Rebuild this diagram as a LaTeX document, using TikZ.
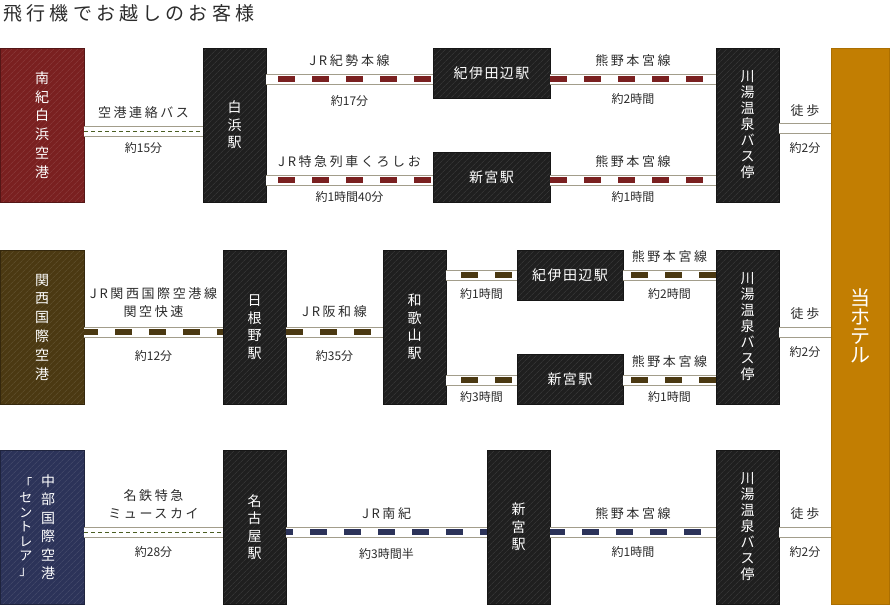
\documentclass[tikz,border=0pt]{standalone}
\usepackage{fontspec}
\setmainfont{Noto Sans CJK JP}
\newfontfamily\spfont[LetterSpace=20]{Noto Sans CJK JP}
\newfontfamily\stfont[LetterSpace=10]{Noto Sans CJK JP}
\newfontfamily\ttlfont[LetterSpace=22]{Noto Sans CJK JP}
\usetikzlibrary{positioning,patterns.meta}
\definecolor{ink}{HTML}{2B2B2B}
\definecolor{rail}{HTML}{A29D8B}
\definecolor{nkred}{HTML}{7A2020}
\definecolor{kxbrown}{HTML}{4B3912}
\definecolor{cnavy}{HTML}{2C3359}
\definecolor{stnfill}{HTML}{1F1F1F}
\definecolor{gold}{HTML}{C27E02}
\definecolor{busg}{HTML}{4B5E22}
\tikzset{
  blk/.style={rectangle,inner sep=0pt,outer sep=0pt,line width=1pt,text=white,align=center,font=\fontsize{14}{17.5}\selectfont},
  hatch/.style={preaction={fill=#1},draw=#1!70!black,pattern={Lines[angle=45,distance=4pt,line width=0.6pt]},pattern color=white!14!#1},
  apt/.style={blk,hatch=#1,minimum width=84pt,minimum height=154pt,font=\fontsize{14}{18.8}\selectfont},
  bigstn/.style={blk,hatch=stnfill,minimum width=63pt,minimum height=154pt},
  smstn/.style={blk,hatch=stnfill,minimum height=50pt,font=\stfont\fontsize{14}{17}\selectfont},
  track/.style={draw=rail,line width=1pt,double=white,double distance=9pt},
  tie/.style={draw=#1,line width=6pt,dash pattern=on 17pt off 17pt},
  bus/.style={draw=busg,line width=1pt,dash pattern=on 4pt off 3pt},
  nm/.style={font=\spfont\fontsize{13}{18}\selectfont,text=ink,align=center,yshift=18pt},
  tm/.style={font=\fontsize{12}{14}\selectfont,text=ink,yshift=-20pt},
}
\begin{document}
\begin{tikzpicture}[x=1pt,y=-1pt]
\useasboundingbox (0,0) rectangle (890,605);
\node[font=\ttlfont\fontsize{19}{21}\selectfont,text=ink,anchor=west] (title) at (0,13) {飛行機でお越しのお客様};

% boxes
\node[apt=nkred] (nanki) at (42,125) {南\\紀\\白\\浜\\空\\港};
\node[bigstn,right=119pt of nanki] (shirahama) {白\\浜\\駅};
\node[smstn,minimum width=117pt,below right=0pt and 167pt of shirahama.north east] (kii1) {紀伊田辺駅};
\node[smstn,minimum width=117pt,above right=0pt and 167pt of shirahama.south east] (shingu1) {新宮駅};
\node[bigstn,below right=0pt and 166pt of kii1.north east,font=\fontsize{14}{16}\selectfont] (kawayu1) {川\\湯\\温\\泉\\バ\\ス\\停};
\node[blk,fill=gold,draw=gold!88!black,minimum width=58pt,minimum height=556pt,below right=0pt and 52pt of kawayu1.north east,font=\fontsize{20}{19}\selectfont] (hotel) {当\\ホ\\テ\\ル};

\node[apt=kxbrown] (kansai) at (42,327) {関\\西\\国\\際\\空\\港};
\node[bigstn,right=139pt of kansai] (hineno) {日\\根\\野\\駅};
\node[bigstn,right=97pt of hineno] (wakayama) {和\\歌\\山\\駅};
\node[smstn,minimum width=106pt,below right=0pt and 71pt of wakayama.north east] (kii2) {紀伊田辺駅};
\node[smstn,minimum width=106pt,above right=0pt and 71pt of wakayama.south east] (shingu2) {新宮駅};
\node[bigstn,below right=0pt and 93pt of kii2.north east,font=\fontsize{14}{16}\selectfont] (kawayu2) {川\\湯\\温\\泉\\バ\\ス\\停};

\node[apt=cnavy] (chubu) at (42,527) {};
\node[text=white,align=center,font=\fontsize{14}{18.5}\selectfont] (chubuname) at ([xshift=6pt]chubu.center) {中\\部\\国\\際\\空\\港};
\node[text=white,align=center,font=\fontsize{13}{14.5}\selectfont] (centrair) at ([xshift=-16pt]chubu.center) {「\\セ\\ン\\ト\\レ\\ア\\」};
\node[bigstn,right=139pt of chubu] (nagoya) {名\\古\\屋\\駅};
\node[bigstn,right=201pt of nagoya] (shingu3) {新\\宮\\駅};
\node[bigstn,right=166pt of shingu3,font=\fontsize{14}{16}\selectfont] (kawayu3) {川\\湯\\温\\泉\\バ\\ス\\停};

% track levels
\coordinate (y1u) at (0,79);
\coordinate (y1m) at (0,131);
\coordinate (y1w) at (0,128);
\coordinate (y1d) at (0,180);
\coordinate (y2u) at (0,275);
\coordinate (y2m) at (0,332);
\coordinate (y2d) at (0,380);
\coordinate (y3m) at (0,532);

% row 1
\draw[track] (nanki.east |- y1m) -- node[nm] (n1) {空港連絡バス} node[tm,yshift=3pt] (t1) {約15分} (shirahama.west |- y1m);
\draw[bus] (nanki.east |- y1m) -- (shirahama.west |- y1m);
\draw[track] (shirahama.east |- y1u) -- node[nm] (n2) {JR紀勢本線} node[tm,yshift=-2pt] (t2) {約17分} (kii1.west |- y1u);
\draw[tie=nkred,dash phase=22pt] (shirahama.east |- y1u) -- (kii1.west |- y1u);
\draw[track] (shirahama.east |- y1d) -- node[nm] (n3) {JR特急列車くろしお} node[tm,yshift=3pt] (t3) {約1時間40分} (shingu1.west |- y1d);
\draw[tie=nkred,dash phase=22pt] (shirahama.east |- y1d) -- (shingu1.west |- y1d);
\draw[track] (kii1.east |- y1u) -- node[nm] (n4) {熊野本宮線} node[tm] (t4) {約2時間} (kawayu1.west |- y1u);
\draw[tie=nkred] (kii1.east |- y1u) -- (kawayu1.west |- y1u);
\draw[track] (shingu1.east |- y1d) -- node[nm] (n5) {熊野本宮線} node[tm,yshift=3pt] (t5) {約1時間} (kawayu1.west |- y1d);
\draw[tie=nkred] (shingu1.east |- y1d) -- (kawayu1.west |- y1d);
\draw[track] (kawayu1.east |- y1w) -- node[nm,yshift=-1pt] (n6) {徒歩} node[tm] (t6) {約2分} (hotel.west |- y1w);

% row 2
\draw[track] (kansai.east |- y2m) -- node[nm,yshift=11pt] (n7) {JR関西国際空港線\\関空快速} node[tm,yshift=-4pt] (t7) {約12分} (hineno.west |- y2m);
\draw[tie=kxbrown,dash phase=3pt] (kansai.east |- y2m) -- (hineno.west |- y2m);
\draw[track] (hineno.east |- y2m) -- node[nm,yshift=2pt] (n8) {JR阪和線} node[tm,yshift=-4pt] (t8) {約35分} (wakayama.west |- y2m);
\draw[tie=kxbrown] (hineno.east |- y2m) -- (wakayama.west |- y2m);
\draw[track] (wakayama.east |- y2u) -- node[tm,yshift=1pt] (t9) {約1時間} (kii2.west |- y2u);
\draw[tie=kxbrown,dash phase=19pt] (wakayama.east |- y2u) -- (kii2.west |- y2u);
\draw[track] (kii2.east |- y2u) -- node[nm] (n10) {熊野本宮線} node[tm,yshift=1pt] (t10) {約2時間} (kawayu2.west |- y2u);
\draw[tie=kxbrown,dash phase=26pt] (kii2.east |- y2u) -- (kawayu2.west |- y2u);
\draw[track] (wakayama.east |- y2d) -- node[tm,yshift=3pt] (t11) {約3時間} (shingu2.west |- y2d);
\draw[tie=kxbrown,dash phase=19pt] (wakayama.east |- y2d) -- (shingu2.west |- y2d);
\draw[track] (shingu2.east |- y2d) -- node[nm] (n12) {熊野本宮線} node[tm,yshift=3pt] (t12) {約1時間} (kawayu2.west |- y2d);
\draw[tie=kxbrown,dash phase=26pt] (shingu2.east |- y2d) -- (kawayu2.west |- y2d);
\draw[track] (kawayu2.east |- y2m) -- node[nm] (n13) {徒歩} node[tm] (t13) {約2分} (hotel.west |- y2m);

% row 3
\draw[track] (chubu.east |- y3m) -- node[nm,yshift=10pt] (n14) {名鉄特急\\ミュースカイ} node[tm] (t14) {約28分} (nagoya.west |- y3m);
\draw[bus] (chubu.east |- y3m) -- (nagoya.west |- y3m);
\draw[track] (nagoya.east |- y3m) -- node[nm] (n15) {JR南紀} node[tm,yshift=-2pt] (t15) {約3時間半} (shingu3.west |- y3m);
\draw[tie=cnavy,dash phase=10pt] (nagoya.east |- y3m) -- (shingu3.west |- y3m);
\draw[track] (shingu3.east |- y3m) -- node[nm] (n16) {熊野本宮線} node[tm] (t16) {約1時間} (kawayu3.west |- y3m);
\draw[tie=cnavy,dash phase=2pt] (shingu3.east |- y3m) -- (kawayu3.west |- y3m);
\draw[track] (kawayu3.east |- y3m) -- node[nm] (n17) {徒歩} node[tm] (t17) {約2分} (hotel.west |- y3m);
\end{tikzpicture}
\end{document}
